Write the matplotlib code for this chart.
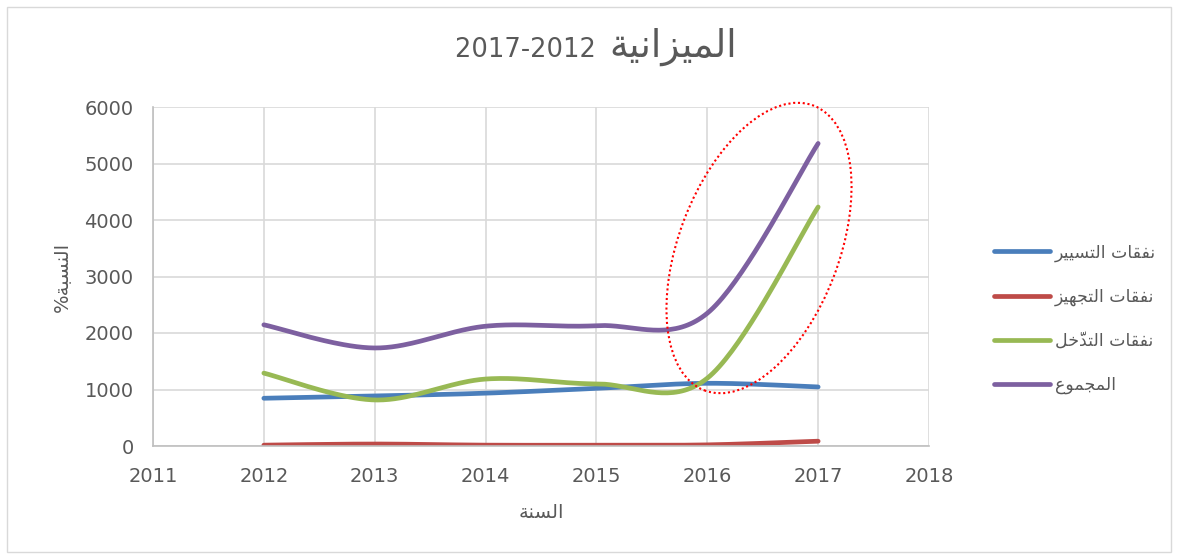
import numpy as np
import matplotlib
matplotlib.use("Agg")
import matplotlib.pyplot as plt
from matplotlib.patches import Ellipse, Rectangle

plt.rcParams['font.family'] = ['DejaVu Sans']

# ---- data ----
years = [2012, 2013, 2014, 2015, 2016, 2017]
operating = [845, 885, 935, 1020, 1110, 1045]      # نفقات التسيير
equipment = [15, 35, 15, 15, 20, 85]               # نفقات التجهيز
intervention = [1290, 815, 1185, 1100, 1200, 4230]  # نفقات التدخّل
total = [2145, 1735, 2120, 2130, 2350, 5355]        # المجموع

# Arabic strings in visual (shaped, left-to-right) order
lbl_operating = "\uFEAE\uFEF4\uFEF4\uFEB4\uFE98\uFEDF\uFE8D \uFE95\uFE8E\uFED8\uFED4\uFEE7"
lbl_equipment = "\uFEB0\uFEF4\uFEEC\uFEA0\uFE98\uFEDF\uFE8D \uFE95\uFE8E\uFED8\uFED4\uFEE7"
lbl_intervention = "\uFEDE\uFEA7\u0651\uFEAA\uFE98\uFEDF\uFE8D \uFE95\uFE8E\uFED8\uFED4\uFEE7"
lbl_total = "\uFEC9\uFEEE\uFEE4\uFEA0\uFEE4\uFEDF\uFE8D"
title_num = "2017-2012"
title_ar = "\uFE94\uFEF4\uFEE7\uFE8D\uFEB0\uFEF4\uFEE4\uFEDF\uFE8D"
xlabel_txt = "\uFE94\uFEE8\uFEB4\uFEDF\uFE8D"
ylabel_txt = "%\uFE94\uFE92\uFEB4\uFEE8\uFEDF\uFE8D"

series = [
    (operating, lbl_operating, "#4A7EBB"),
    (equipment, lbl_equipment, "#BE4B48"),
    (intervention, lbl_intervention, "#98B954"),
    (total, lbl_total, "#7D60A0"),
]


def smooth(x, y, n=40):
    pts = np.column_stack([x, y]).astype(float)
    P = np.vstack([pts[0], pts, pts[-1]])
    out = []
    t = np.linspace(0, 1, n)[:, None]
    for i in range(len(pts) - 1):
        p0, p1, p2, p3 = P[i], P[i + 1], P[i + 2], P[i + 3]
        c1 = p1 + (p2 - p0) / 6.0
        c2 = p2 - (p3 - p1) / 6.0
        seg = (1 - t) ** 3 * p1 + 3 * (1 - t) ** 2 * t * c1 + 3 * (1 - t) * t ** 2 * c2 + t ** 3 * p2
        out.append(seg if i == 0 else seg[1:])
    return np.vstack(out)


fig = plt.figure(figsize=(11.78, 5.59), dpi=100)
fig.patches.append(Rectangle((0.006, 0.012), 0.988, 0.976, transform=fig.transFigure,
                             fill=False, edgecolor="#D9D9D9", linewidth=1.0))

ax = fig.add_axes([153 / 1178, 1 - 446 / 559, (929 - 153) / 1178, (446 - 107) / 559])

for vals, lbl, col in series:
    s = smooth(years, vals)
    ax.plot(s[:, 0], s[:, 1], color=col, lw=3.4, solid_capstyle="round", label=lbl)

ax.set_xlim(2011, 2018)
ax.set_ylim(0, 6000)
ax.set_xticks(range(2011, 2019))
ax.set_yticks(range(0, 6001, 1000))
ax.grid(True, color="#D9D9D9", lw=1.2)
ax.set_axisbelow(True)
for sp in ["top", "right"]:
    ax.spines[sp].set_visible(False)
for sp in ["left", "bottom"]:
    ax.spines[sp].set_color("#BFBFBF")
    ax.spines[sp].set_linewidth(1.2)
ax.tick_params(length=0, labelsize=14, colors="#595959")
ax.tick_params(axis="x", pad=15)
ax.tick_params(axis="y", pad=14)

ax.set_xlabel(xlabel_txt, fontsize=14, color="#595959", labelpad=12)
ax.set_ylabel(ylabel_txt, fontsize=14, color="#595959", labelpad=9)

fig.text(604 / 1178, 1 - 50 / 559, title_num + " ", fontsize=18.5, color="#595959",
         ha="right", va="center")
fig.text(609 / 1178, 1 - 47 / 559, title_ar, fontsize=27, color="#595959",
         ha="left", va="center")

leg = ax.legend(loc="center left", bbox_to_anchor=(1.064, 0.375), frameon=False,
                fontsize=12.5, labelspacing=1.5, handlelength=3.2, handletextpad=0.3)
for t in leg.get_texts():
    t.set_color("#595959")
for h in leg.get_lines():
    h.set_solid_capstyle("round")

ell = Ellipse((7.59, (559 - 248) / 100), width=1.6, height=3.05, angle=-21,
              transform=fig.dpi_scale_trans, fill=False, edgecolor="red",
              linestyle=(0, (1, 1.3)), linewidth=1.5)
fig.patches.append(ell)

fig.savefig("out.png", dpi=100)
